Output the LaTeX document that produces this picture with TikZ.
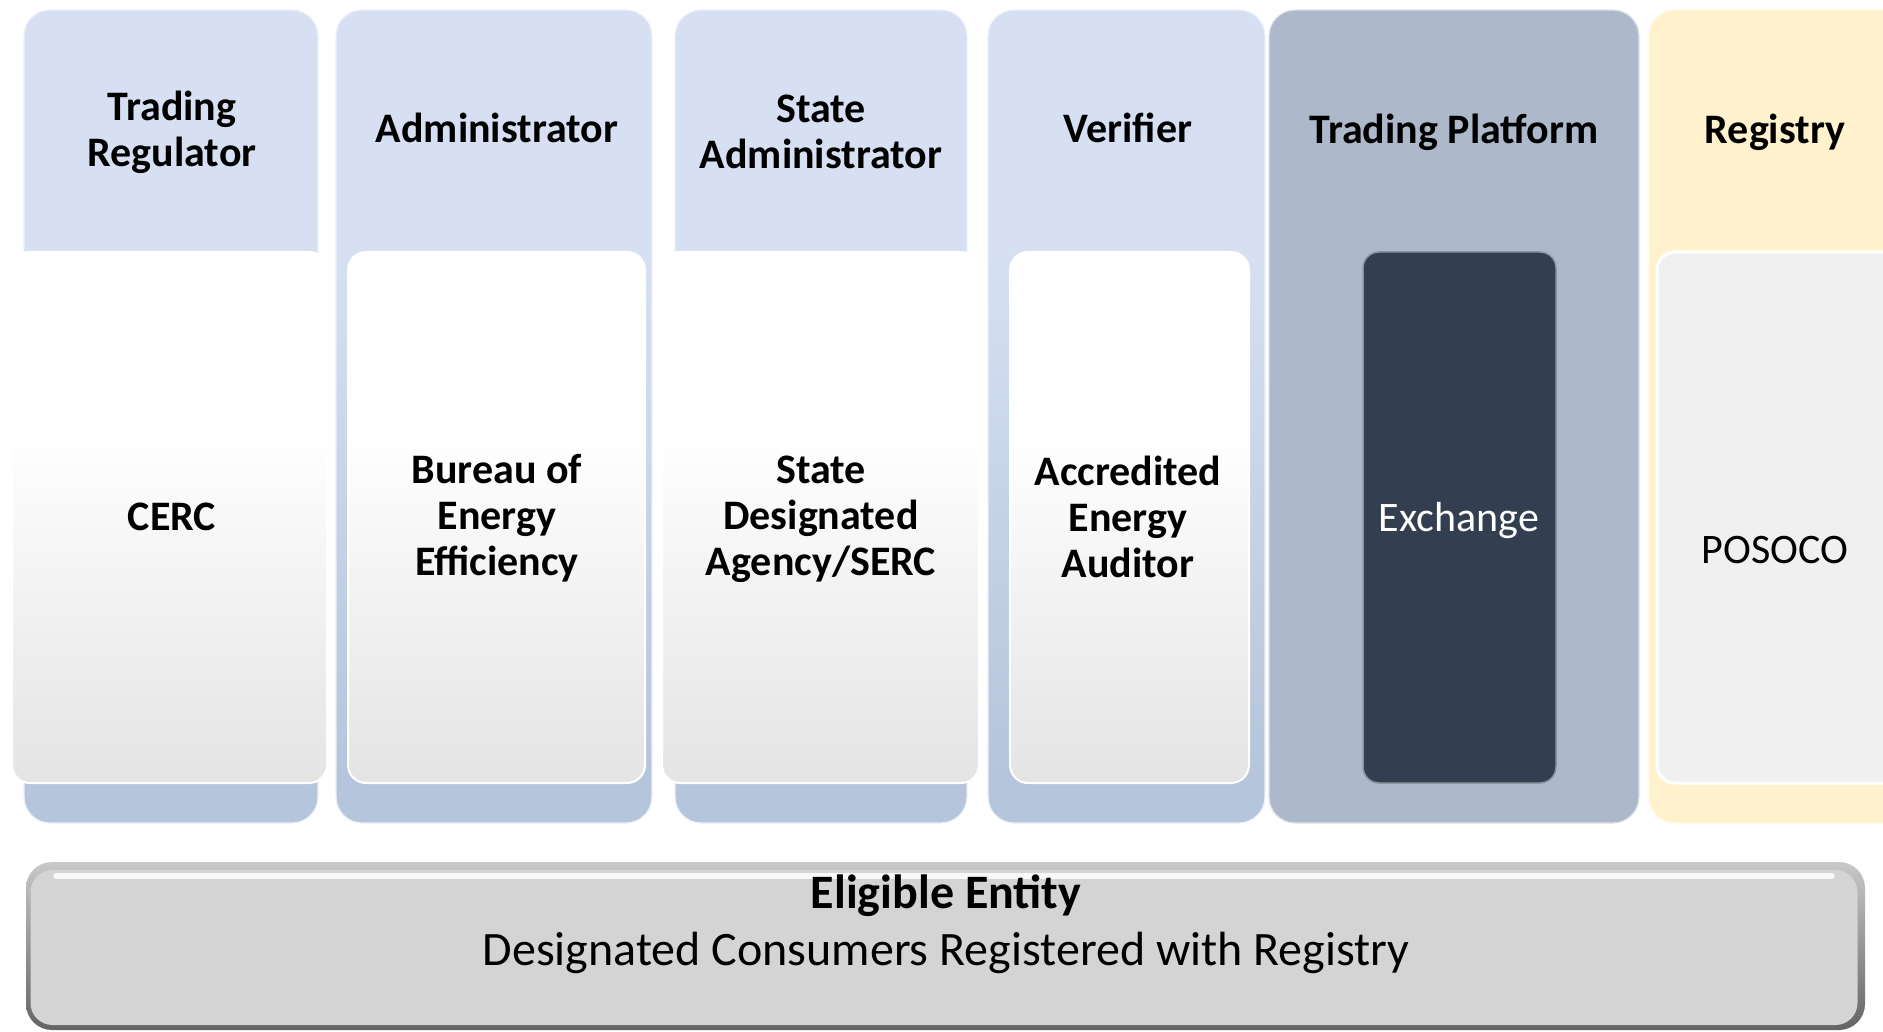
\documentclass[tikz,border=0pt]{standalone}
\usepackage{fontspec}
\setmainfont{Carlito}
\definecolor{ctop}{RGB}{214,224,242}
\definecolor{cbot}{RGB}{181,197,219}
\definecolor{pbot}{RGB}{228,228,228}
\definecolor{platf}{RGB}{173,185,202}
\definecolor{darkx}{RGB}{51,63,80}
\definecolor{regy}{RGB}{255,242,204}
\definecolor{regin}{RGB}{240,240,240}
\definecolor{barfill}{RGB}{212,212,212}
\definecolor{bartop}{RGB}{200,200,200}
\definecolor{barbot}{RGB}{100,100,100}
\pgfdeclareverticalshading{colshade}{100bp}{color(0bp)=(cbot); color(28bp)=(cbot); color(60bp)=(ctop); color(100bp)=(ctop)}
\pgfdeclareverticalshading{panelshade}{100bp}{color(0bp)=(pbot); color(25bp)=(pbot); color(58bp)=(white); color(100bp)=(white)}
\pgfdeclareverticalshading{barshade}{100bp}{color(0bp)=(barbot); color(25bp)=(barbot); color(75bp)=(bartop); color(100bp)=(bartop)}
\tikzset{
  colbox/.style={rectangle, inner sep=0pt, rounded corners=26pt, shading=colshade, draw=white!55!ctop, line width=1.2pt},
  panel/.style={rectangle, inner sep=0pt, rounded corners=18pt, shading=panelshade, draw=white, line width=2pt},
  platbox/.style={rectangle, inner sep=0pt, rounded corners=26pt, fill=platf, draw=white!60!platf, line width=1.2pt},
  darkbox/.style={rectangle, inner sep=0pt, rounded corners=16pt, fill=darkx, draw=white!45!darkx, line width=1.5pt},
  regbox/.style={rectangle, inner sep=0pt, rounded corners=26pt, fill=regy, draw=white!50!regy, line width=1.2pt},
  regpanel/.style={rectangle, inner sep=0pt, rounded corners=18pt, fill=regin, draw=white, line width=3pt},
  hdr/.style={font=\fontsize{42}{46}\selectfont\bfseries, align=center, text=black, inner sep=0pt},
  bodyb/.style={font=\fontsize{42}{46}\selectfont\bfseries, align=center, text=black, inner sep=0pt},
  bodyr/.style={font=\fontsize{42}{46}\selectfont, align=center, inner sep=0pt},
  bartxt/.style={font=\fontsize{48}{56}\selectfont, anchor=base, inner sep=0pt, text=black},
}
\begin{document}
\begin{tikzpicture}[x=1pt,y=-1pt]
\clip (0,0) rectangle (1883,1032);
\fill[white] (0,0) rectangle (1883,1032);
% columns
\node[colbox, minimum width=294pt, minimum height=813pt] (c1) at (171,416.5) {};
\node[colbox, minimum width=316pt, minimum height=813pt] (c2) at (494,416.5) {};
\node[colbox, minimum width=292pt, minimum height=813pt] (c3) at (821,416.5) {};
\node[colbox, minimum width=277pt, minimum height=813pt] (c4) at (1126.5,416.5) {};
\node[platbox, minimum width=370pt, minimum height=813pt] (c5) at (1454,416.5) {};
\node[regbox, minimum width=280pt, minimum height=813pt] (c6) at (1789,416.5) {};
% inner panels
\node[panel, minimum width=315pt, minimum height=531pt] (p1) at (169.5,517.5) {};
\node[panel, minimum width=297pt, minimum height=531pt] (p2) at (496.5,517.5) {};
\node[panel, minimum width=317pt, minimum height=531pt] (p3) at (820.5,517.5) {};
\node[panel, minimum width=239pt, minimum height=531pt] (p4) at (1129.5,517.5) {};
\node[darkbox, minimum width=193pt, minimum height=531pt] (p5) at (1459.5,517.5) {};
\node[regpanel, minimum width=270pt, minimum height=531pt] (p6) at (1792,517.5) {};
% headers
\node[hdr] (h1) at (172,132) {Trading\\Regulator};
\node[hdr] (h2) at (497,128) {Administrator};
\node[hdr] (h3) at (821,132) {State\\Administrator};
\node[hdr] (h4) at (1128,128) {Verifier};
\node[hdr] (h5) at (1454,132) {Trading Platform};
\node[hdr] (h6) at (1775,132) {Registry};
% bodies
\node[bodyb] (b1) at (172,517) {CERC};
\node[bodyb] (b2) at (497,518) {Bureau of\\Energy\\Efficiency};
\node[bodyb] (b3) at (821,519) {State\\Designated\\Agency/SERC};
\node[bodyb] (b4) at (1128,517) {Accredited\\Energy\\Auditor};
\node[bodyr, text=white] (b5) at (1459,521) {Exchange};
\node[bodyr, text=black] (b6) at (1775,550) {POSOCO};
% bottom bar
\node[rectangle, inner sep=0pt, rounded corners=26pt, shading=barshade, minimum width=1839pt, minimum height=168pt] (bar) at (945.5,946) {};
\node[rectangle, inner sep=0pt, rounded corners=22pt, fill=barfill, minimum width=1827pt, minimum height=155pt] (barin) at (944,947.5) {};
\draw[white, line width=6pt, opacity=0.85, line cap=round] ([xshift=26pt,yshift=-6pt]barin.north west) -- ([xshift=-26pt,yshift=-6pt]barin.north east);
\node[bartxt, font=\fontsize{48}{56}\selectfont\bfseries] (e1) at (946,908) {Eligible Entity};
\node[bartxt] (e2) at (946,965) {Designated Consumers Registered with Registry};
\end{tikzpicture}
\end{document}
